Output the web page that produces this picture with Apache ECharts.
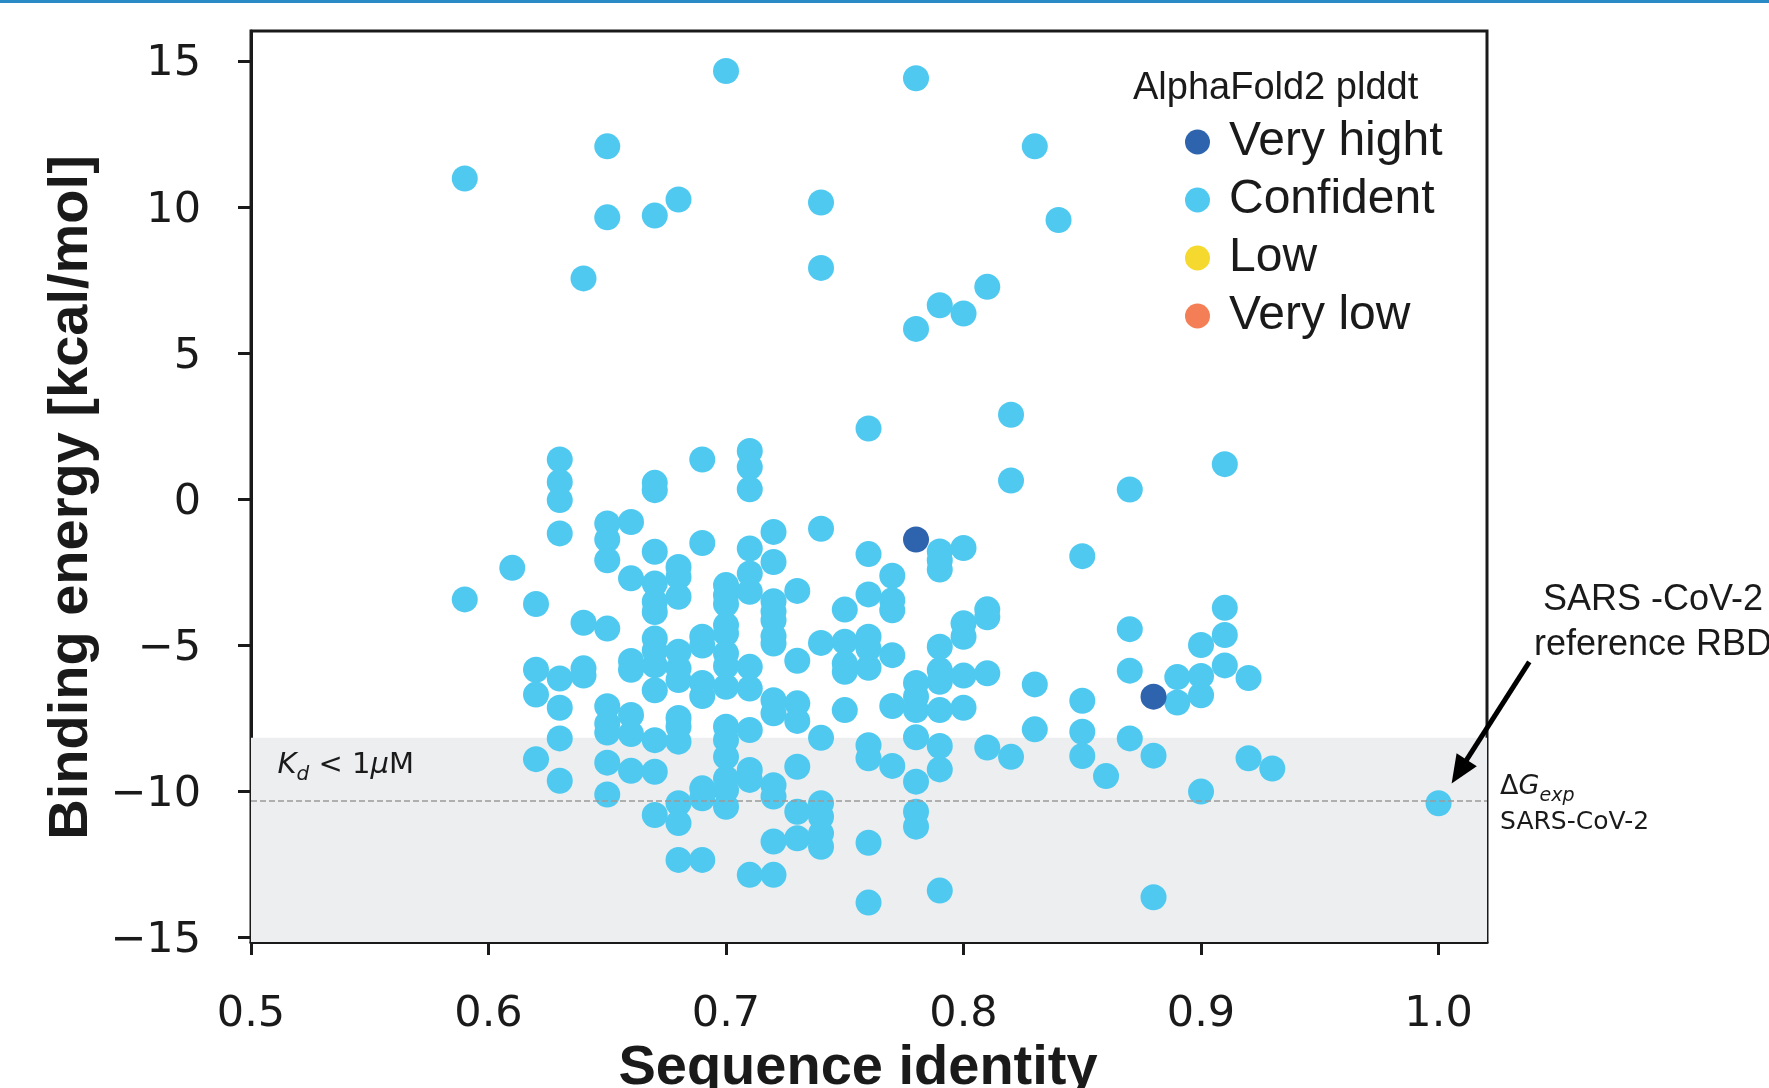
<!DOCTYPE html>
<html><head><meta charset="utf-8">
<script src="https://cdn.jsdelivr.net/npm/echarts@6/dist/echarts.min.js"></script>
<style>html,body{margin:0;padding:0;background:#fff;}#c{width:1769px;height:1088px;}</style>
</head><body><div id="c"></div>
<script>
// ---- data ----
const identityLevels = [0.59,0.61,0.62,0.63,0.64,0.65,0.66,0.67,0.68,0.69,0.70,0.71,0.72,0.73,0.74,0.75,0.76,0.77,0.78,0.79,0.80,0.81,0.82,0.83,0.84,0.85,0.86,0.87,0.88,0.89,0.90,0.91,0.92,0.93,1.00];
const confidentEnergy = [
  [10.97,-3.44],
  [-2.36],
  [-3.60,-5.85,-6.70,-8.91],
  [1.35,0.58,-0.04,-1.18,-6.15,-7.15,-8.20,-9.65],
  [7.55,-4.24,-5.80,-6.05],
  [12.07,9.64,-0.84,-1.39,-2.10,-4.44,-7.10,-7.70,-8.00,-9.03,-10.12],
  [-0.79,-2.72,-5.55,-5.85,-7.40,-8.05,-9.31],
  [9.70,0.55,0.30,-1.81,-2.90,-3.52,-3.87,-4.78,-5.20,-5.70,-6.55,-8.26,-9.34,-10.82],
  [10.25,-2.33,-2.67,-3.35,-5.23,-5.80,-6.20,-7.50,-7.80,-8.31,-10.42,-11.10,-12.36],
  [1.35,-1.51,-4.72,-5.02,-6.30,-6.75,-9.91,-10.25,-12.36],
  [14.65,-2.95,-3.30,-3.60,-4.32,-4.61,-5.29,-5.72,-6.43,-7.80,-8.25,-8.83,-9.57,-9.97,-10.54],
  [1.64,1.09,0.33,-1.70,-2.55,-3.18,-5.75,-6.49,-7.91,-9.28,-9.62,-12.87],
  [-1.13,-2.16,-3.50,-3.85,-4.15,-4.70,-4.95,-6.89,-7.34,-9.80,-10.19,-11.73,-12.87],
  [-3.15,-5.54,-7.00,-7.60,-9.17,-10.71,-11.62],
  [10.15,7.91,-1.02,-4.93,-8.18,-10.42,-10.88,-11.45,-11.91],
  [-3.79,-4.89,-5.63,-5.92,-7.23],
  [2.41,-1.89,-3.27,-4.72,-5.12,-5.78,-8.43,-8.88,-11.77,-13.82],
  [-2.63,-3.47,-3.81,-5.35,-7.09,-9.14],
  [14.40,5.82,-6.30,-6.77,-7.23,-8.16,-9.68,-10.71,-11.22],
  [6.63,-1.80,-2.10,-2.42,-5.06,-5.86,-6.26,-7.23,-8.46,-9.26,-13.41],
  [6.35,-1.68,-4.26,-4.72,-6.05,-7.15],
  [7.26,-3.78,-4.05,-5.97,-8.51],
  [2.88,0.63,-8.83],
  [12.07,-6.35,-7.89],
  [9.55],
  [-1.96,-6.91,-7.97,-8.80],
  [-9.49],
  [0.32,-4.46,-5.88,-8.20],
  [-8.79,-13.64],
  [-6.10,-6.97],
  [-5.00,-6.06,-6.72,-10.02],
  [1.19,-3.73,-4.66,-5.70],
  [-6.13,-8.88],
  [-9.23],
  [-10.42]
];
const veryHighIdentity = [0.78, 0.88];
const veryHighEnergy = [-1.39, -6.77];
const lowData = [];
const veryLowData = [];
const xTicks = [0.5,0.6,0.7,0.8,0.9,1.0];
const yTicks = [-15,-10,-5,0,5,10,15];
const kdThreshold = -8.18;      // Kd < 1 uM band upper edge
const dGexp = -10.35;           // experimental dG of SARS-CoV-2
const xMin = 0.5, xMax = 1.0204, yMin = -15.17, yMax = 16.02;

// ---- build ----
const confidentData = [];
identityLevels.forEach((x, i) => confidentEnergy[i].forEach(y => confidentData.push([x, y])));
const veryHighData = veryHighIdentity.map((x, i) => [x, veryHighEnergy[i]]);

const INK = '#1a1a1a';
const SANS = "'Liberation Sans', Arial, sans-serif";
const DJ = "'DejaVu Sans', sans-serif";
const minus = v => (v < 0 ? '\u2212' + Math.abs(v) : String(v));

const option = {
  animation: false,
  backgroundColor: '#ffffff',
  title: {
    text: 'AlphaFold2 plddt', left: 1133, top: 70, padding: 0,
    textStyle: { fontFamily: SANS, fontSize: 38, fontWeight: 'normal', color: INK }
  },
  legend: {
    orient: 'vertical', left: 1180, top: 113, icon: 'circle',
    itemWidth: 25, itemHeight: 25, itemGap: 10, selectedMode: false,
    data: ['Very hight', 'Confident', 'Low', 'Very low'],
    textStyle: { fontFamily: SANS, fontSize: 48, color: INK, lineHeight: 47, padding: [0, 0, 0, 14] }
  },
  grid: { left: 251, top: 31, width: 1236, height: 911, show: true, borderColor: INK, borderWidth: 3,
    backgroundColor: 'transparent', containLabel: false, outerBoundsMode: 'none' },
  xAxis: {
    type: 'value', min: xMin, max: xMax,
    name: 'Sequence identity', nameLocation: 'middle', nameGap: 95,
    nameTextStyle: { fontFamily: SANS, fontWeight: 'bold', fontSize: 56, color: INK, padding: [0, 22, 0, 0] },
    axisLine: { show: true, onZero: false, lineStyle: { color: INK, width: 3 } },
    axisTick: { show: true, inside: false, length: 13, lineStyle: { color: INK, width: 3 }, customValues: xTicks },
    axisLabel: { customValues: xTicks, formatter: v => v.toFixed(1), fontFamily: DJ, fontSize: 43, color: INK, margin: 51 },
    splitLine: { show: false }
  },
  yAxis: {
    type: 'value', min: yMin, max: yMax,
    name: 'Binding energy [kcal/mol]', nameLocation: 'middle', nameGap: 150,
    nameTextStyle: { fontFamily: SANS, fontWeight: 'bold', fontSize: 56, color: INK, padding: [0, 22, 0, 0] },
    axisLine: { show: true, onZero: false, lineStyle: { color: INK, width: 3 } },
    axisTick: { show: true, inside: false, length: 13, lineStyle: { color: INK, width: 3 }, customValues: yTicks },
    axisLabel: { customValues: yTicks, formatter: v => '{t|' + minus(v) + '}', margin: 50,
      rich: { t: { fontFamily: DJ, fontSize: 43, color: INK, padding: [7, 0, 0, 0] } } },
    splitLine: { show: false }
  },
  series: [
    {
      name: 'band', type: 'scatter', data: [], z: 1, silent: true,
      markArea: { silent: true, itemStyle: { color: '#edeef0' }, data: [[{ yAxis: kdThreshold }, { yAxis: yMin }]] },
      markLine: { silent: true, symbol: ['none', 'none'], label: { show: false },
        lineStyle: { color: '#9a9a9a', width: 1.6, type: [6, 3] }, data: [{ yAxis: dGexp }] }
    },
    { name: 'Confident', type: 'scatter', z: 3, symbol: 'circle', symbolSize: 26, itemStyle: { color: '#4fc9f0', opacity: 1 }, data: confidentData },
    { name: 'Very hight', type: 'scatter', z: 4, symbol: 'circle', symbolSize: 26, itemStyle: { color: '#2e63ae', opacity: 1 }, data: veryHighData },
    { name: 'Low', type: 'scatter', z: 4, symbol: 'circle', symbolSize: 26, itemStyle: { color: '#f5d92e', opacity: 1 }, data: lowData },
    { name: 'Very low', type: 'scatter', z: 4, symbol: 'circle', symbolSize: 26, itemStyle: { color: '#f47f56', opacity: 1 }, data: veryLowData }
  ]
};

const chart = echarts.init(document.getElementById('c'), null, { renderer: 'canvas' });
chart.setOption(option);

// ---- annotations anchored in data space ----
const px = (x, y) => chart.convertToPixel({ gridIndex: 0 }, [x, y]);
const arrowFrom = px(1.0382, -5.58), arrowTip = px(1.0055, -9.74);
const dx = arrowTip[0] - arrowFrom[0], dy = arrowTip[1] - arrowFrom[1];
const L = Math.hypot(dx, dy), ux = dx / L, uy = dy / L;
const headLen = 28, headHalf = 12;
const baseX = arrowTip[0] - ux * headLen, baseY = arrowTip[1] - uy * headLen;
const refText = px(1.0903, -2.68);
const dgText = px(1.0259, -9.87);
const sarsText = px(1.0259, -11.08);
const kdText = px(0.5112, -9.12);

chart.setOption({
  graphic: [
    { type: 'rect', left: 0, top: 0, shape: { width: 1769, height: 3 }, style: { fill: '#2a8ac6' }, z: 100 },
    { type: 'line', shape: { x1: arrowFrom[0], y1: arrowFrom[1], x2: baseX + ux * 4, y2: baseY + uy * 4 },
      style: { stroke: '#000', lineWidth: 5 }, z: 100 },
    { type: 'polygon', shape: { points: [
        [arrowTip[0], arrowTip[1]],
        [baseX - uy * headHalf, baseY + ux * headHalf],
        [baseX + uy * headHalf, baseY - ux * headHalf]] },
      style: { fill: '#000' }, z: 100 },
    { type: 'text', x: refText[0], y: refText[1], z: 100,
      style: { text: 'SARS -CoV-2\nreference RBD', fontFamily: SANS, fontSize: 36, lineHeight: 45, fill: INK, align: 'center', verticalAlign: 'top' } },
    { type: 'text', x: dgText[0], y: dgText[1], z: 100,
      style: { text: '{d|\u0394}{g|G}{s|exp}', align: 'left', verticalAlign: 'middle', fill: INK,
        rich: {
          d: { fontFamily: DJ, fontSize: 27, lineHeight: 36, verticalAlign: 'middle', fill: INK },
          g: { fontFamily: DJ, fontSize: 27, fontStyle: 'italic', lineHeight: 36, verticalAlign: 'middle', fill: INK },
          s: { fontFamily: DJ, fontSize: 19, fontStyle: 'italic', lineHeight: 22, verticalAlign: 'bottom', fill: INK }
        } } },
    { type: 'text', x: sarsText[0], y: sarsText[1], z: 100,
      style: { text: 'SARS-CoV-2', fontFamily: DJ, fontSize: 25, fill: INK, align: 'left', verticalAlign: 'middle' } },
    { type: 'text', x: kdText[0], y: kdText[1], z: 100,
      style: { text: '{i|K}{s|d}{n| < 1}{i|\u03bc}{n|M}', align: 'left', verticalAlign: 'middle', fill: INK,
        rich: {
          i: { fontFamily: DJ, fontSize: 29, fontStyle: 'italic', lineHeight: 40, verticalAlign: 'middle', fill: INK },
          n: { fontFamily: DJ, fontSize: 29, lineHeight: 40, verticalAlign: 'middle', fill: INK },
          s: { fontFamily: DJ, fontSize: 20, fontStyle: 'italic', lineHeight: 22, verticalAlign: 'bottom', fill: INK }
        } } }
  ]
});
</script>
</body></html>
